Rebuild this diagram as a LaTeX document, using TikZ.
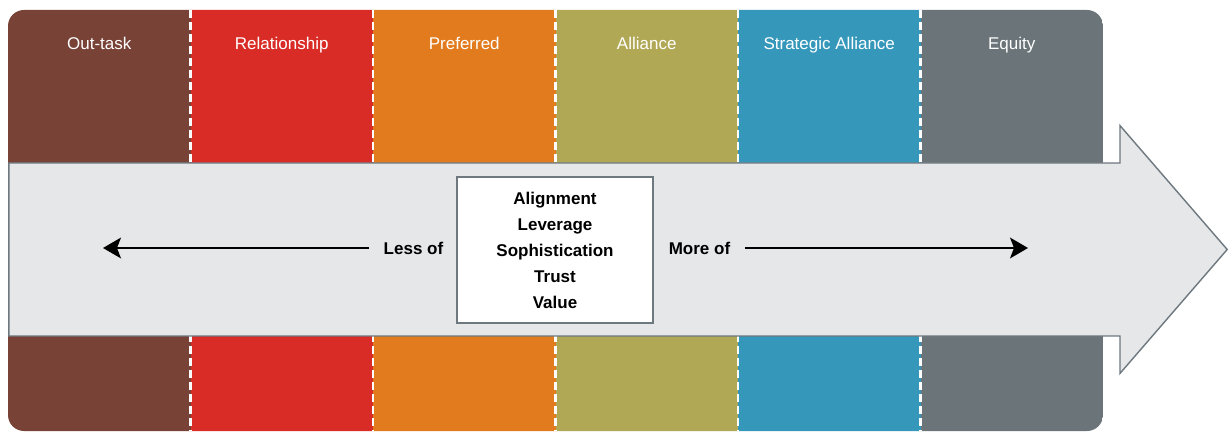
\documentclass[tikz,border=0pt]{standalone}
\usepackage{fontspec}
\setmainfont{Liberation Sans}
\usepackage{xcolor}
\usepackage{tikz}
\usetikzlibrary{arrows.meta}

\definecolor{outtask}{RGB}{120,66,54}
\definecolor{relation}{RGB}{217,44,39}
\definecolor{preferred}{RGB}{226,123,30}
\definecolor{alliance}{RGB}{176,168,85}
\definecolor{strategic}{RGB}{53,152,187}
\definecolor{equity}{RGB}{107,116,121}
\definecolor{arrowfill}{RGB}{230,231,233}
\definecolor{arrowline}{RGB}{109,120,127}

\begin{document}
\begin{tikzpicture}[
  stage/.style={text=white, anchor=base, font=\fontsize{12.1}{14}\selectfont},
  divider/.style={white, line width=1.5pt, dash pattern=on 0.2cm off 0.1cm},
  bigarrow/.style={fill=arrowfill, draw=arrowline, line width=1pt, line join=miter},
  factors/.style={draw=arrowline, fill=white, line width=0.8pt, minimum width=4.9cm,
                  minimum height=3.65cm, align=center,
                  font=\fontsize{12.1}{18.5}\selectfont\bfseries},
  note/.style={font=\fontsize{12.1}{14}\selectfont\bfseries, inner sep=0.36cm},
  pointer/.style={-{Stealth[length=0.45cm, width=0.52cm, inset=0.1cm]}, line width=1.1pt},
]
\useasboundingbox (0,0) rectangle (30.725,10.8);

% Colonnes
\begin{scope}
  \clip[rounded corners=0.4cm] (0.2,0.025) rectangle (27.575,10.55);
  \foreach \i/\col/\name in {0/outtask/Out-task, 1/relation/Relationship,
      2/preferred/Preferred, 3/alliance/Alliance,
      4/strategic/Strategic Alliance, 5/equity/Equity} {
    \fill[\col] ({0.2+4.5625*\i},0) rectangle ++(4.5625,10.6);
    \node[stage] (s\i) at ({0.2+4.5625*(\i+0.5)},9.56) {\name};
  }
\end{scope}
\foreach \i in {1,...,5}
  \draw[divider] ({0.2+4.5625*\i},10.55) -- ({0.2+4.5625*\i},0.025);

% Grande flèche
\draw[bigarrow] (0.22,6.725) -- (28,6.725) -- (28,7.66) -- (30.68,4.5625)
  -- (28,1.465) -- (28,2.4) -- (0.22,2.4) -- cycle;

% Boîte centrale
\node[factors] (core) at (13.875,4.55)
  {Alignment\\Leverage\\Sophistication\\Trust\\Value};

\node[note] (less) at (10.3375,4.6) {Less of};
\node[note] (more) at (17.4875,4.6) {More of};
\coordinate (lessend) at (2.575,4.6);
\coordinate (moreend) at (25.7,4.6);

% Flèches
\draw[pointer] (less) -- (lessend);
\draw[pointer] (more) -- (moreend);

\end{tikzpicture}
\end{document}
